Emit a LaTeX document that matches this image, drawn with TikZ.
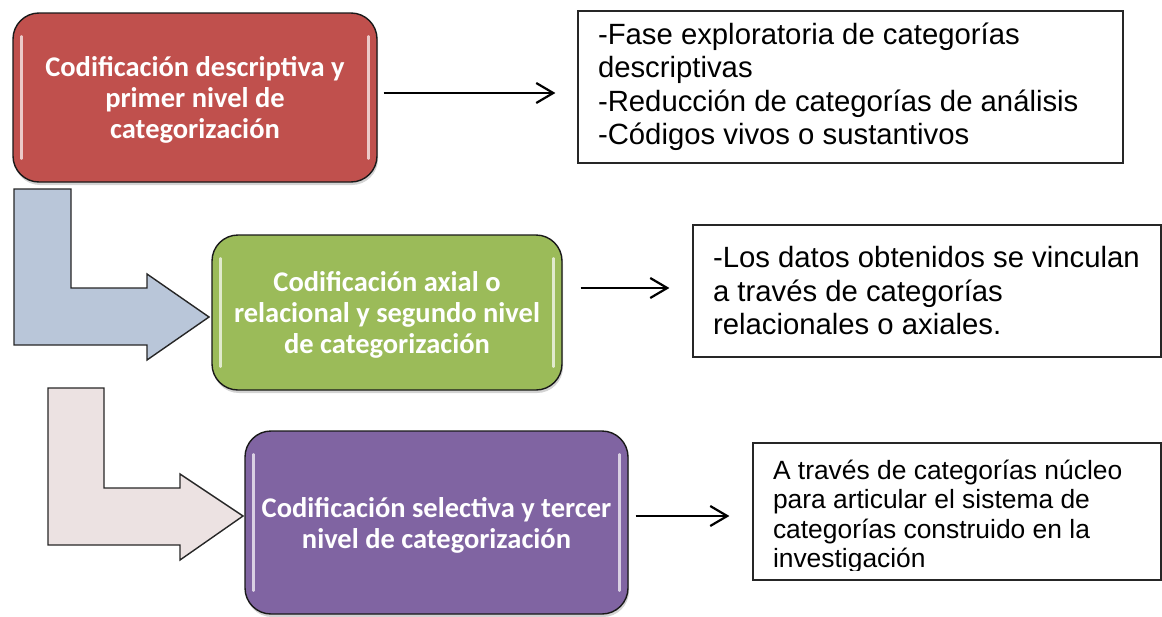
\documentclass[tikz,border=0pt]{standalone}
\usepackage{fontspec}
\setmainfont{Liberation Sans}
\newfontfamily\calibri{Carlito}
\usetikzlibrary{positioning}
\usetikzlibrary{arrows.meta}
\usetikzlibrary{shadows}
\definecolor{codred}{HTML}{C0504D}
\definecolor{codgreen}{HTML}{9BBB59}
\definecolor{codpurple}{HTML}{8064A2}
\definecolor{arrowblue}{HTML}{B9C6D9}
\definecolor{arrowpink}{HTML}{ECE2E2}
\tikzset{
    codbox/.style = {rectangle, rounded corners=26pt, line width=1.4pt, draw=black!90, align=flush center, text=white, text depth=0pt, font=\calibri\bfseries\fontsize{28.5}{31}\selectfont, drop shadow={shadow xshift=1pt, shadow yshift=-3pt, opacity=0.35}},
    txtbox/.style = {rectangle, line width=1.2pt, draw=black!85, align=flush left, inner xsep=20pt, inner ysep=0pt, font=\fontsize{29.3}{33.5}\selectfont},
    gloss/.style = {white, line width=2.5pt, line cap=round, opacity=0.7},
    larrow/.style = {line width=1.4pt, draw=black!85, line join=miter},
    edgen/.style = {-{Straight Barb[length=17pt,width=20pt]}, line width=2.2pt}
}
\begin{document}
\begin{tikzpicture}[x=1pt, y=-1pt]
  \useasboundingbox (0,0) rectangle (1162,616);

  % L shaped arrows
  \draw[larrow, fill=arrowblue] (14,189) -- (71,189) -- (71,288) -- (147,288) -- (147,274) -- (209,317) -- (147,360) -- (147,345) -- (14,345) -- cycle;
  \draw[larrow, fill=arrowpink] (48,388) -- (104,388) -- (104,488) -- (180,488) -- (180,474) -- (243,516) -- (180,560) -- (180,545) -- (48,545) -- cycle;

  \node[codbox, fill=codred, minimum width=364pt, minimum height=169pt] (descriptiva) at (195,97.5) {Codificación descriptiva y\\primer nivel de\\categorización};
  \node[codbox, fill=codgreen, minimum width=350pt, minimum height=155pt] (axial) at (387,312.5) {Codificación axial o\\relacional y segundo nivel\\de categorización};
  \node[codbox, fill=codpurple, minimum width=383pt, minimum height=183pt] (selectiva) at (436.5,522.5) {Codificación selectiva y tercer\\nivel de categorización};

  \foreach \n in {descriptiva,axial,selectiva} {
    \draw[gloss] ([xshift=9pt,yshift=-24pt]\n.north west) -- ([xshift=9pt,yshift=24pt]\n.south west);
    \draw[gloss] ([xshift=-9pt,yshift=-24pt]\n.north east) -- ([xshift=-9pt,yshift=24pt]\n.south east);
  }

  \node[txtbox, text width=505pt, minimum height=152pt] (fase) at (850.5,87) {-Fase exploratoria de categorías\\descriptivas\\-Reducción de categorías de análisis\\-Códigos vivos o sustantivos};
  \node[txtbox, text width=428pt, minimum height=132pt] (vinculo) at (927,291) {-Los datos obtenidos se vinculan\\a través de categorías\\relacionales o axiales.};
  \node[txtbox, text width=368pt, minimum height=137pt] (nucleo) at (957,511.5) {};
  \begin{scope}
    \clip ([yshift=10pt]nucleo.south west) rectangle (nucleo.north east);
    \node[txtbox, draw=none, text width=368pt, font=\fontsize{26.4}{29.5}\selectfont] (nucleotxt) at ([yshift=-5pt]nucleo.center) {A través de categorías núcleo\\para articular el sistema de\\categorías construido en la\\investigación};
  \end{scope}

  \draw[edgen, shorten <=6pt, shorten >=22pt] ([yshift=4.5pt]descriptiva.east) -- ([yshift=4.5pt]descriptiva.east -| fase.west);
  \draw[edgen, shorten <=18pt, shorten >=23pt] ([yshift=3pt]vinculo.west -| axial.east) -- ([yshift=3pt]vinculo.west);
  \draw[edgen, shorten <=7pt, shorten >=23pt] ([yshift=-4.5pt]nucleo.west -| selectiva.east) -- ([yshift=-4.5pt]nucleo.west);
\end{tikzpicture}
\end{document}
